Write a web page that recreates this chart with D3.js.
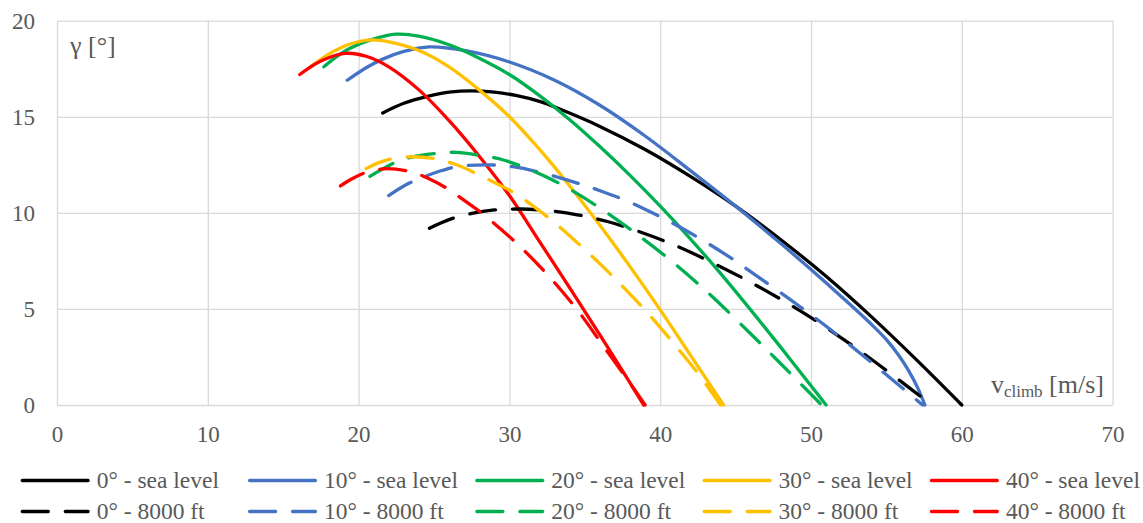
<!DOCTYPE html>
<html>
<head>
<meta charset="utf-8">
<script src="https://cdn.jsdelivr.net/npm/d3@7"></script>
<style>
  body { margin: 0; background: #ffffff; }
  svg text { font-family: "Liberation Serif", "Times New Roman", "DejaVu Serif", serif; fill: #595959; }
</style>
</head>
<body>
<svg id="chart" width="1143" height="523"></svg>
<script>
// Climb angle γ [°] versus climb speed for five settings, at sea level and at 8000 ft.
const xTicks = [0, 10, 20, 30, 40, 50, 60, 70];
const yTicks = [0, 5, 10, 15, 20];
const angles = ["0°", "10°", "20°", "30°", "40°"];
const altitudes = ["sea level", "8000 ft"];

// sea level
const vSea0  = [21.6, 23, 24.5, 26, 27.5, 29, 30.5, 32, 33.5, 36, 39, 42, 45, 48, 51, 54, 57, 60];
const gSea0  = [15.2, 15.7, 16.05, 16.28, 16.35, 16.28, 16.1, 15.8, 15.35, 14.5, 13.3, 11.9, 10.35, 8.6, 6.7, 4.6, 2.35, 0];
const vSea10 = [19.25, 20.5, 21.6, 23, 24.7, 27, 30, 33, 36, 39, 42, 45, 48, 50, 52, 54, 55, 55.8, 56.5, 57.1, 57.55];
const gSea10 = [16.9, 17.55, 18.0, 18.4, 18.64, 18.45, 17.85, 16.9, 15.6, 14.0, 12.2, 10.35, 8.4, 7.05, 5.65, 4.2, 3.4, 2.6, 1.75, 0.85, 0];
const vSea20 = [17.7, 18.5, 19.4, 20.8, 22.5, 24, 26, 28, 30, 32, 34, 36, 38, 40, 42, 44, 46, 48, 50, 51];
const gSea20 = [17.6, 18.1, 18.55, 19.0, 19.3, 19.2, 18.75, 18.05, 17.2, 16.1, 14.85, 13.45, 11.95, 10.35, 8.65, 6.85, 4.95, 3.0, 1.0, 0];
const vSea30 = [16.8, 18.1, 19.3, 20.8, 22, 24, 26, 28, 30, 32, 34, 36, 38, 40, 42, 44.2];
const gSea30 = [17.6, 18.3, 18.75, 19.0, 18.9, 18.45, 17.6, 16.4, 15.0, 13.3, 11.4, 9.35, 7.2, 4.95, 2.6, 0];
const vSea40 = [16.1, 17.5, 19.1, 20.5, 22, 24, 26, 28, 30, 32, 34, 36, 38, 38.9];
const gSea40 = [17.2, 17.9, 18.3, 18.15, 17.6, 16.4, 14.8, 12.95, 10.9, 8.5, 6.1, 3.65, 1.15, 0];

// 8000 ft
const vAlt0  = [24.7, 26, 27.5, 29, 30.7, 32.5, 34.5, 36.5, 38.5, 41, 44, 47, 50, 53, 55.5, 58];
const gAlt0  = [9.2, 9.65, 9.97, 10.15, 10.2, 10.12, 9.9, 9.55, 9.05, 8.3, 7.2, 5.95, 4.55, 2.95, 1.5, 0];
const vAlt10 = [22, 23, 24.1, 25.3, 26.5, 28.5, 30.2, 31.8, 34.5, 36.2, 38, 40, 42, 44.4, 46.8, 49.3, 51.5, 54.8, 57.4];
const gAlt10 = [10.9, 11.4, 11.8, 12.15, 12.4, 12.5, 12.4, 12.15, 11.55, 11.1, 10.55, 9.8, 8.95, 7.8, 6.5, 5.1, 3.8, 1.7, 0];
const vAlt20 = [20.75, 22.5, 23.8, 25.2, 26.5, 28, 29.6, 31.2, 32.9, 34.5, 36.2, 38, 40.65, 43.3, 46.2, 48.5, 50.7];
const gAlt20 = [11.9, 12.65, 12.95, 13.1, 13.15, 13.0, 12.75, 12.3, 11.7, 11.0, 10.15, 9.15, 7.55, 5.75, 3.55, 1.75, 0];
const vAlt30 = [20.5, 21.3, 22.1, 23.6, 25.2, 26.5, 27.8, 29.2, 30.5, 32.9, 34.5, 36.2, 37.6, 39.1, 40.9, 42.5, 44.0];
const gAlt30 = [12.3, 12.6, 12.8, 12.92, 12.8, 12.5, 12.05, 11.5, 10.95, 9.55, 8.45, 7.2, 6.1, 4.85, 3.2, 1.65, 0];
const vAlt40 = [18.8, 19.5, 20.3, 21.1, 21.9, 23.4, 24.6, 25.8, 27, 28.3, 30.5, 32.5, 34.5, 36.2, 37.8, 39.0];
const gAlt40 = [11.4, 11.75, 12.05, 12.22, 12.3, 12.15, 11.8, 11.3, 10.65, 9.9, 8.4, 6.8, 4.95, 3.1, 1.35, 0];

const palette = ["#000000", "#4472C4", "#00B050", "#FFC000", "#FF0000"];
const DASH = "26,17";

const seaSpeeds = [vSea0, vSea10, vSea20, vSea30, vSea40];
const seaGammas = [gSea0, gSea10, gSea20, gSea30, gSea40];
const altSpeeds = [vAlt0, vAlt10, vAlt20, vAlt30, vAlt40];
const altGammas = [gAlt0, gAlt10, gAlt20, gAlt30, gAlt40];

// drawing / legend order: all sea-level curves, then all 8000 ft curves
const series = [];
altitudes.forEach((alt, a) => {
  angles.forEach((ang, i) => {
    const vs = a === 0 ? seaSpeeds[i] : altSpeeds[i];
    const gs = a === 0 ? seaGammas[i] : altGammas[i];
    series.push({
      name: ang + " - " + alt,
      color: palette[i],
      dashed: a === 1,
      points: vs.map((v, k) => ({ v: v, g: gs[k] }))
    });
  });
});

const svg = d3.select("#chart");
const plotLeft = 57, plotRight = 1112.6, plotTop = 20.7, plotBottom = 405;

const x = d3.scaleLinear().domain([0, 70]).range([plotLeft, plotRight]);
const y = d3.scaleLinear().domain([0, 20]).range([plotBottom, plotTop]);

const TICK_FONT = 23, LEGEND_FONT = 23.5, TITLE_FONT = 26;

// vertical gridlines + x tick labels
const xAxis = svg.append("g")
  .attr("transform", `translate(0,${plotBottom})`)
  .call(d3.axisBottom(x).tickValues(xTicks).tickSize(-(plotBottom - plotTop)).tickPadding(20.4).tickFormat(d3.format("d")));
// horizontal gridlines + y tick labels
const yAxis = svg.append("g")
  .attr("transform", `translate(${plotLeft},0)`)
  .call(d3.axisLeft(y).tickValues(yTicks).tickSize(-(plotRight - plotLeft)).tickPadding(22).tickFormat(d3.format("d")));

[xAxis, yAxis].forEach(g => {
  g.select(".domain").remove();
  g.attr("font-size", null).attr("font-family", null);
  g.selectAll(".tick line").attr("stroke", "#d9d9d9").attr("stroke-width", 1.3);
  g.selectAll(".tick text").attr("font-size", TICK_FONT).attr("fill", "#595959");
});

// axis titles
svg.append("text")
  .attr("x", 70).attr("y", 54)
  .attr("font-size", TITLE_FONT)
  .text("γ [°]");

const xt = svg.append("text")
  .attr("x", 1104).attr("y", 393)
  .attr("text-anchor", "end")
  .attr("font-size", TITLE_FONT);
xt.append("tspan").text("v");
xt.append("tspan").attr("font-size", 17).attr("dy", 4).text("climb");
xt.append("tspan").attr("dy", -4).text(" [m/s]");

// curves
const line = d3.line()
  .x(d => x(d.v))
  .y(d => y(d.g))
  .curve(d3.curveCatmullRom.alpha(0.5));

svg.append("g").selectAll("path")
  .data(series)
  .join("path")
  .attr("d", d => line(d.points))
  .attr("fill", "none")
  .attr("stroke", d => d.color)
  .attr("stroke-width", 3.3)
  .attr("stroke-linecap", "round")
  .attr("stroke-linejoin", "round")
  .attr("stroke-dasharray", d => d.dashed ? DASH : null);

// legend: two rows of five entries
const legend = svg.append("g");
const legendX0 = 20.7, legendStep = 227.3, rowY = [480.5, 511.5], sample = 69;
series.forEach((s, idx) => {
  const col = idx % 5, row = Math.floor(idx / 5);
  const lx = legendX0 + col * legendStep, ly = rowY[row];
  legend.append("line")
    .attr("x1", lx + 1.6).attr("x2", lx + sample - 1.6)
    .attr("y1", ly).attr("y2", ly)
    .attr("stroke", s.color)
    .attr("stroke-width", 3.3)
    .attr("stroke-linecap", "round")
    .attr("stroke-dasharray", s.dashed ? DASH : null);
  legend.append("text")
    .attr("x", lx + 76).attr("y", ly + 7.3)
    .attr("font-size", LEGEND_FONT)
    .text(s.name);
});
</script>
</body>
</html>
